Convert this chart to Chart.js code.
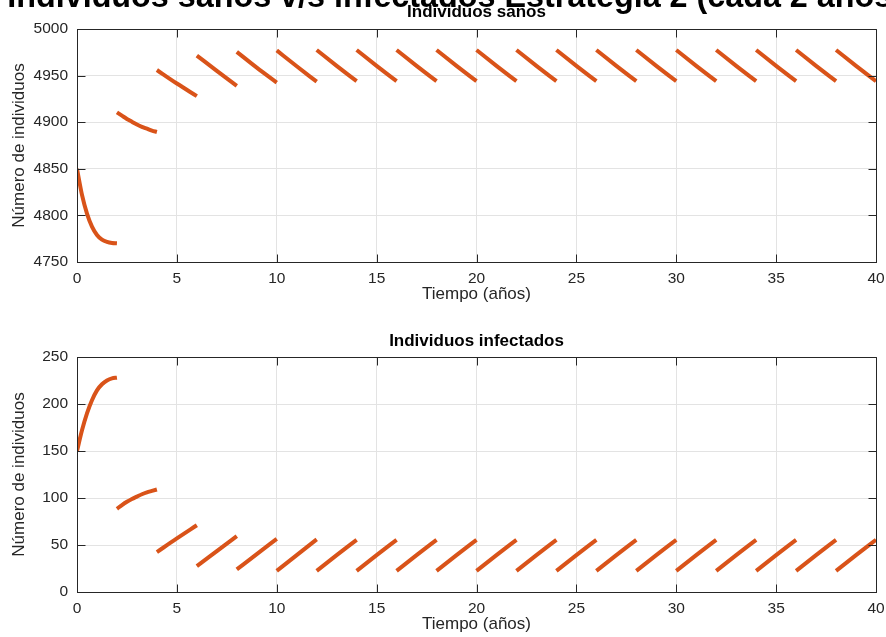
<!DOCTYPE html>
<html lang="es">
<head>
<meta charset="utf-8">
<title>Individuos sanos v/s infectados</title>
<script src="https://cdn.jsdelivr.net/npm/chart.js@4.4.1/dist/chart.umd.min.js"></script>
<style>
  html, body { margin: 0; padding: 0; background: #fff; overflow: hidden; }
  #fig { position: relative; width: 886px; height: 637px; overflow: hidden; }
  #sanos { position: absolute; left: 0; top: 0; }
  #infectados { position: absolute; left: 0; top: 307px; }
  #suptitulo {
    position: absolute; left: 7.3px; top: -20px; z-index: 2;
    font: bold 32.3px/36px "Liberation Sans", Arial, sans-serif;
    white-space: nowrap; color: #000;
  }
  #base { display: inline-block; width: 0; height: 0; }
</style>
</head>
<body>
<div id="fig">
  <canvas id="sanos" width="886" height="307" style="width:886px;height:307px"></canvas>
  <canvas id="infectados" width="886" height="330" style="width:886px;height:330px"></canvas>
  <div id="suptitulo">Individuos sanos v/s infectados Estrategia 2 (cada 2 años)<span id="base"></span></div>
</div>
<script>
// tiempo (años); null en los valores corta la línea entre tramos
const tiempo = [
  0, 0.25, 0.5, 0.75, 1, 1.25, 1.5, 1.75, 2, 2,
  2, 2.25, 2.5, 2.75, 3, 3.25, 3.5, 3.75, 4, 4,
  4, 5, 6, 6,
  6, 7, 8, 8,
  8, 9, 10, 10,
  10, 11, 12, 12,
  12, 13, 14, 14,
  14, 15, 16, 16,
  16, 17, 18, 18,
  18, 19, 20, 20,
  20, 21, 22, 22,
  22, 23, 24, 24,
  24, 25, 26, 26,
  26, 27, 28, 28,
  28, 29, 30, 30,
  30, 31, 32, 32,
  32, 33, 34, 34,
  34, 35, 36, 36,
  36, 37, 38, 38,
  38, 39, 40
];

const sanos = [
  4850, 4822, 4802, 4788, 4779, 4774, 4771.5, 4770.3, 4770, null,
  4910.5, 4907, 4903.5, 4900.5, 4897.5, 4895, 4893, 4891, 4889.5, null,
  4956, 4941.5, 4928, null,
  4971.5, 4955, 4939, null,
  4975.5, 4958.5, 4942.5, null,
  4977, 4960, 4943.5, null,
  4977.5, 4960.5, 4944, null,
  4977.5, 4960.5, 4944, null,
  4977.5, 4960.5, 4944, null,
  4977.5, 4960.5, 4944, null,
  4977.5, 4960.5, 4944, null,
  4977.5, 4960.5, 4944, null,
  4977.5, 4960.5, 4944, null,
  4977.5, 4960.5, 4944, null,
  4977.5, 4960.5, 4944, null,
  4977.5, 4960.5, 4944, null,
  4977.5, 4960.5, 4944, null,
  4977.5, 4960.5, 4944, null,
  4977.5, 4960.5, 4944, null,
  4977.5, 4960.5, 4944
];

const infectados = [
  150, 172, 190, 204, 214.5, 221, 225, 227.3, 228, null,
  88.5, 92.5, 96, 99, 101.5, 104, 106, 107.5, 109, null,
  42.5, 57, 71, null,
  27.5, 43.5, 59.5, null,
  24, 40.3, 56.5, null,
  22.5, 39.3, 56, null,
  22.5, 39.2, 55.5, null,
  22.5, 39.2, 55.5, null,
  22.5, 39.2, 55.5, null,
  22.5, 39.2, 55.5, null,
  22.5, 39.2, 55.5, null,
  22.5, 39.2, 55.5, null,
  22.5, 39.2, 55.5, null,
  22.5, 39.2, 55.5, null,
  22.5, 39.2, 55.5, null,
  22.5, 39.2, 55.5, null,
  22.5, 39.2, 55.5, null,
  22.5, 39.2, 55.5, null,
  22.5, 39.2, 55.5, null,
  22.5, 39.2, 55.5
];

const ticksX = [0, 5, 10, 15, 20, 25, 30, 35, 40];
const ticksSanos = [4750, 4800, 4850, 4900, 4950, 5000];
const ticksInfectados = [0, 50, 100, 150, 200, 250];

const FUENTE = '"Liberation Sans", Arial, Helvetica, sans-serif';
const NARANJA = '#D95319';
const GRIS = '#262626';
const REJILLA = '#e3e3e3';

// baseline del título general en y = 6.5 px
const sup = document.getElementById('suptitulo');
const base = document.getElementById('base');
sup.style.top = (6.5 - base.offsetTop) + 'px';

// caja completa con marcas hacia dentro, como en MATLAB
const cajaEjes = {
  id: 'cajaEjes',
  afterDatasetsDraw(chart) {
    const { ctx, chartArea: a, scales } = chart;
    const L = Math.round(a.left) + 0.5, R = Math.round(a.right) + 0.5;
    const T = Math.round(a.top) + 0.5, B = Math.round(a.bottom) + 0.5;
    ctx.save();
    ctx.strokeStyle = GRIS;
    ctx.lineWidth = 1;
    ctx.beginPath();
    ctx.rect(L, T, R - L, B - T);
    scales.x.ticks.forEach(t => {
      const px = Math.round(scales.x.getPixelForValue(t.value)) + 0.5;
      ctx.moveTo(px, B); ctx.lineTo(px, B - 8);
      ctx.moveTo(px, T); ctx.lineTo(px, T + 8);
    });
    scales.y.ticks.forEach(t => {
      const py = Math.round(scales.y.getPixelForValue(t.value)) + 0.5;
      ctx.moveTo(L, py); ctx.lineTo(L + 8, py);
      ctx.moveTo(R, py); ctx.lineTo(R - 8, py);
    });
    ctx.stroke();
    ctx.restore();
  }
};

function crearSubplot(id, titulo, valores, marcasY, paddingTitulo) {
  const puntos = tiempo.map((t, i) => ({ x: t, y: valores[i] }));
  return new Chart(document.getElementById(id), {
    type: 'line',
    data: {
      datasets: [{
        data: puntos,
        borderColor: NARANJA,
        borderWidth: 4,
        pointRadius: 0,
        spanGaps: false,
        fill: false,
        cubicInterpolationMode: 'monotone'
      }]
    },
    options: {
      responsive: false,
      animation: false,
      events: [],
      layout: { padding: { left: 0, right: 10, top: 0, bottom: 0 } },
      plugins: {
        legend: { display: false },
        tooltip: { enabled: false },
        title: {
          display: true,
          fullSize: false,
          text: titulo,
          color: '#000',
          font: { family: FUENTE, size: 17, weight: 'bold' },
          padding: paddingTitulo
        }
      },
      scales: {
        x: {
          type: 'linear',
          min: ticksX[0],
          max: ticksX[ticksX.length - 1],
          afterFit: s => { s.height = 45; s.paddingLeft = 0; s.paddingRight = 0; },
          afterBuildTicks: s => { s.ticks = ticksX.map(v => ({ value: v })); },
          ticks: {
            color: GRIS, padding: 7, maxRotation: 0, autoSkip: false,
            font: { family: FUENTE, size: 15.5 },
            callback: v => String(v)
          },
          grid: { color: REJILLA, drawTicks: false },
          border: { color: GRIS },
          title: {
            display: true, text: 'Tiempo (años)', color: GRIS,
            font: { family: FUENTE, size: 17 },
            padding: { top: 0, bottom: 2 }
          }
        },
        y: {
          min: marcasY[0],
          max: marcasY[marcasY.length - 1],
          afterFit: s => { s.width = 77; s.paddingTop = 0; s.paddingBottom = 0; },
          afterBuildTicks: s => { s.ticks = marcasY.map(v => ({ value: v })); },
          ticks: {
            color: GRIS, padding: 9, autoSkip: false,
            font: { family: FUENTE, size: 15.5 },
            callback: v => String(v)
          },
          grid: { color: REJILLA, drawTicks: false },
          border: { color: GRIS },
          title: {
            display: true, text: 'Número de individuos', color: GRIS,
            font: { family: FUENTE, size: 17 },
            padding: { top: 9.5, bottom: 0 }
          }
        }
      }
    },
    plugins: [cajaEjes]
  });
}

crearSubplot('sanos', 'Individuos sanos', sanos, ticksSanos, { top: 2.6, bottom: 6 });
crearSubplot('infectados', 'Individuos infectados', infectados, ticksInfectados, { top: 24.4, bottom: 5.2 });
</script>
</body>
</html>
